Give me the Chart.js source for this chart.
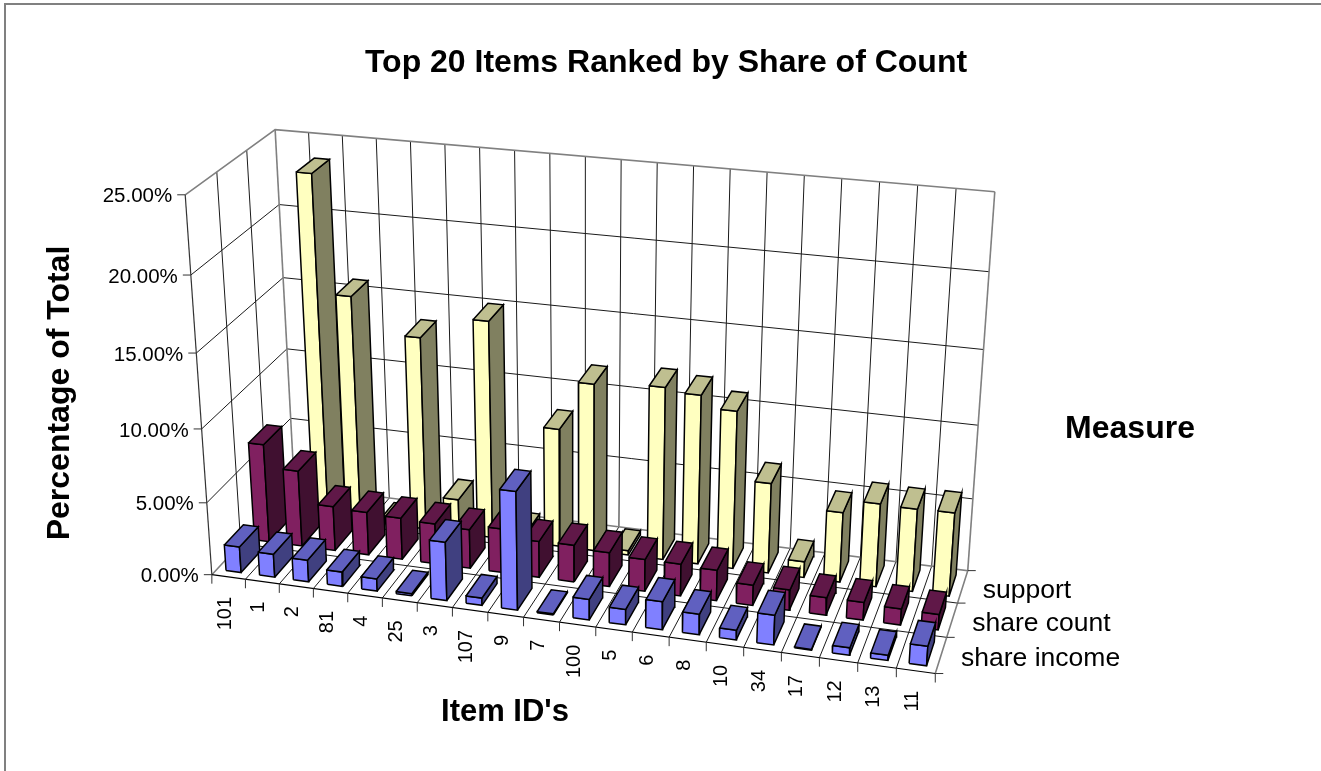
<!DOCTYPE html>
<html>
<head>
<meta charset="utf-8">
<title>Top 20 Items Ranked by Share of Count</title>
<script src="https://cdn.jsdelivr.net/npm/chart.js@4/dist/chart.umd.min.js"></script>
<style>
  html, body { margin: 0; padding: 0; background: #fff; }
  canvas { display: block; }
</style>
</head>
<body>
<canvas id="getChart" width="1321" height="771"></canvas>
<script>
var categories = ["101", "1", "2", "81", "4", "25", "3", "107", "9", "7", "100", "5", "6", "8", "10", "34", "17", "12", "13", "11"];
var measures = ["share income", "share count", "support"];
var shareIncome = [1.8, 1.6, 1.5, 1.0, 0.85, 0.15, 4.0, 0.5, 8.0, 0.08, 1.4, 1.05, 1.9, 1.4, 0.65, 2.0, 0.05, 0.5, 0.35, 1.3];
var shareCount = [6.85, 5.3, 3.1, 3.0, 2.9, 2.8, 2.7, 3.05, 2.5, 2.55, 2.35, 2.2, 2.2, 2.1, 1.4, 1.4, 1.2, 1.2, 1.1, 1.05];
var support = [1.5, 23.6, 15.7, 0.1, 13.4, 2.4, 15.0, 0.6, 8.2, 11.55, 0.3, 11.85, 11.6, 10.8, 6.2, 1.1, 4.8, 5.7, 5.65, 5.7];
var valueTicks = [0, 5, 10, 15, 20, 25];
var valueMax = 25;

// u = along categories, v = depth, w = height, all 0..1, and where the box corners sit on screen
var anchors = [
    [0, 0, 0, 211, 574], [1, 0, 0, 936, 673], [0, 1, 0, 295, 487], [1, 1, 0, 967, 572],
    [0, 0, 1, 185, 196], [0, 1, 1, 275, 129], [1, 1, 1, 995, 192],
    [0, 0, 0.4, 202, 429], [0, 1, 0.4, 287, 348], [1, 1, 0.4, 978, 424]
];

function solve(A, b) {
    var n = b.length;
    for (var c = 0; c < n; c++) {
        var best = c;
        for (var r = c + 1; r < n; r++) if (Math.abs(A[r][c]) > Math.abs(A[best][c])) best = r;
        var t = A[c]; A[c] = A[best]; A[best] = t;
        t = b[c]; b[c] = b[best]; b[best] = t;
        for (r = c + 1; r < n; r++) {
            var f = A[r][c] / A[c][c];
            for (var k = c; k < n; k++) A[r][k] -= f * A[c][k];
            b[r] -= f * b[c];
        }
    }
    var out = new Array(n);
    for (var i = n - 1; i >= 0; i--) {
        var s = b[i];
        for (var j = i + 1; j < n; j++) s -= A[i][j] * out[j];
        out[i] = s / A[i][i];
    }
    return out;
}

// least squares fit of the camera matrix
function fitCamera() {
    var ATA = [], ATb = [];
    for (var i = 0; i < 11; i++) { ATA.push(new Array(11).fill(0)); ATb.push(0); }
    anchors.forEach(function (a) {
        var x = a[3] / 1000, y = a[4] / 1000;
        var rows = [
            [[a[0], a[1], a[2], 1, 0, 0, 0, 0, -x * a[0], -x * a[1], -x * a[2]], x],
            [[0, 0, 0, 0, a[0], a[1], a[2], 1, -y * a[0], -y * a[1], -y * a[2]], y]
        ];
        rows.forEach(function (row) {
            for (var p = 0; p < 11; p++) {
                ATb[p] += row[0][p] * row[1];
                for (var q = 0; q < 11; q++) ATA[p][q] += row[0][p] * row[0][q];
            }
        });
    });
    return solve(ATA, ATb);
}
var cam = fitCamera();

function project(u, v, w) {
    var d = cam[8] * u + cam[9] * v + cam[10] * w + 1;
    return {
        x: 1000 * (cam[0] * u + cam[1] * v + cam[2] * w + cam[3]) / d,
        y: 1000 * (cam[4] * u + cam[5] * v + cam[6] * w + cam[7]) / d
    };
}

var datasets = [];
function addPath(corners, opts) {
    datasets.push({
        data: corners.map(function (c) { return project(c[0], c[1], c[2]); }),
        borderColor: opts.line,
        borderWidth: opts.width,
        backgroundColor: opts.fill || "transparent",
        fill: opts.fill ? "shape" : false,
        pointRadius: 0,
        tension: 0,
        clip: false,
        order: -datasets.length
    });
}

var gridLine = { line: "#1a1a1a", width: 1 };
var edgeLine = { line: "#808080", width: 1.6 };
var nCat = categories.length, nRow = measures.length;

// walls and floor
var i, j;
for (i = 1; i < nCat; i++) {
    addPath([[i / nCat, 0, 0], [i / nCat, 1, 0], [i / nCat, 1, 1]], gridLine);
}
for (j = 1; j < nRow; j++) {
    addPath([[1, j / nRow, 0], [0, j / nRow, 0], [0, j / nRow, 1]], gridLine);
}
valueTicks.slice(1, -1).forEach(function (t) {
    addPath([[0, 0, t / valueMax], [0, 1, t / valueMax], [1, 1, t / valueMax]], gridLine);
});
addPath([[0, 0, 0], [0, 1, 0], [1, 1, 0], [1, 0, 0]], edgeLine);
addPath([[0, 1, 0], [0, 1, 1]], edgeLine);
addPath([[1, 1, 0], [1, 1, 1]], edgeLine);
addPath([[0, 0, 1], [0, 1, 1], [1, 1, 1]], edgeLine);
addPath([[0, 0, 0], [1, 0, 0]], { line: "#000", width: 1.2 });
addPath([[0, 0, 0], [0, 0, 1]], { line: "#333", width: 1.2 });

// bars, back row first, left to right
var rowValues = [shareIncome, shareCount, support];
var rowColors = [
    { front: "#8080ff", top: "#6060c0", side: "#404080" },
    { front: "#802060", top: "#601848", side: "#401030" },
    { front: "#ffffc0", top: "#bfbf90", side: "#808060" }
];
var barWidth = 0.45, barDepth = 0.66;
for (j = nRow - 1; j >= 0; j--) {
    for (i = 0; i < nCat; i++) {
        var u0 = (i + (1 - barWidth) / 2) / nCat, u1 = (i + (1 + barWidth) / 2) / nCat;
        var v0 = (j + (1 - barDepth) / 2) / nRow, v1 = (j + (1 + barDepth) / 2) / nRow;
        var w = rowValues[j][i] / valueMax;
        var col = rowColors[j];
        addPath([[u0, v0, 0], [u1, v0, 0], [u1, v0, w], [u0, v0, w], [u0, v0, 0]], { line: "#000", width: 1.5, fill: col.front });
        addPath([[u1, v0, 0], [u1, v1, 0], [u1, v1, w], [u1, v0, w], [u1, v0, 0]], { line: "#000", width: 1.5, fill: col.side });
        addPath([[u0, v0, w], [u1, v0, w], [u1, v1, w], [u0, v1, w], [u0, v0, w]], { line: "#000", width: 1.5, fill: col.top });
    }
}

var labelsPlugin = {
    id: "labels3d",
    afterDatasetsDraw: function (chart) {
        var c = chart.ctx, sx = chart.scales.x, sy = chart.scales.y;
        function at(u, v, w) {
            var p = project(u, v, w);
            return { x: sx.getPixelForValue(p.x), y: sy.getPixelForValue(p.y) };
        }
        function stroke(x0, y0, x1, y1, color, width) {
            c.strokeStyle = color; c.lineWidth = width;
            c.beginPath(); c.moveTo(x0, y0); c.lineTo(x1, y1); c.stroke();
        }
        function text(str, x, y, font, align, rot) {
            c.save();
            c.translate(x, y);
            if (rot) c.rotate(rot);
            c.font = font; c.fillStyle = "#000"; c.textAlign = align; c.textBaseline = "middle";
            c.fillText(str, 0, 0);
            c.restore();
        }
        c.save();
        // outer frame, left and top only
        c.strokeStyle = "#808080"; c.lineWidth = 2;
        c.beginPath(); c.moveTo(5, 771); c.lineTo(5, 4); c.lineTo(1321, 4); c.stroke();

        var boldFont = "bold 32px 'Liberation Sans'";
        text("Top 20 Items Ranked by Share of Count", 666, 63, boldFont, "center");
        text("Percentage of Total", 60, 393, boldFont, "center", -Math.PI / 2);
        text("Item ID's", 505, 712, "bold 31px 'Liberation Sans'", "center");
        text("Measure", 1130, 429, boldFont, "center");

        valueTicks.forEach(function (t) {
            var p = at(0, 0, t / valueMax);
            stroke(p.x - 8, p.y, p.x, p.y, "#333", 1);
            text(t.toFixed(2) + "%", p.x - 13, p.y + 2, "20.5px 'Liberation Sans'", "right");
        });
        categories.forEach(function (name, k) {
            var p = at(k / nCat, 0, 0);
            stroke(p.x, p.y, p.x, p.y + 9, "#333", 1);
            var m = at((k + 0.5) / nCat, 0, 0);
            text(name, m.x - 3.5, m.y + 20, "20px 'Liberation Sans'", "right", -Math.PI / 2);
        });
        var p = at(1, 0, 0);
        stroke(p.x, p.y, p.x, p.y + 9, "#333", 1);
        for (var r = 0; r <= nRow; r++) {
            var q = at(1, r / nRow, 0);
            stroke(q.x, q.y, q.x + 8, q.y, "#333", 1);
        }
        measures.forEach(function (name, k) {
            var q = at(1, (k + 0.5) / nRow, 0);
            text(name, q.x + 20, q.y + 4, "26.5px 'Liberation Sans'", "left");
        });
        c.restore();
    }
};

var chart = new Chart(document.getElementById("getChart"), {
    type: "line",
    data: { datasets: datasets },
    options: {
        responsive: false,
        animation: false,
        events: [],
        layout: { padding: 0 },
        plugins: {
            legend: { display: false },
            tooltip: { enabled: false }
        },
        scales: {
            x: { type: "linear", min: 0, max: 1321, display: false },
            y: { type: "linear", min: 0, max: 771, reverse: true, display: false }
        }
    },
    plugins: [labelsPlugin]
});
</script>
</body>
</html>
